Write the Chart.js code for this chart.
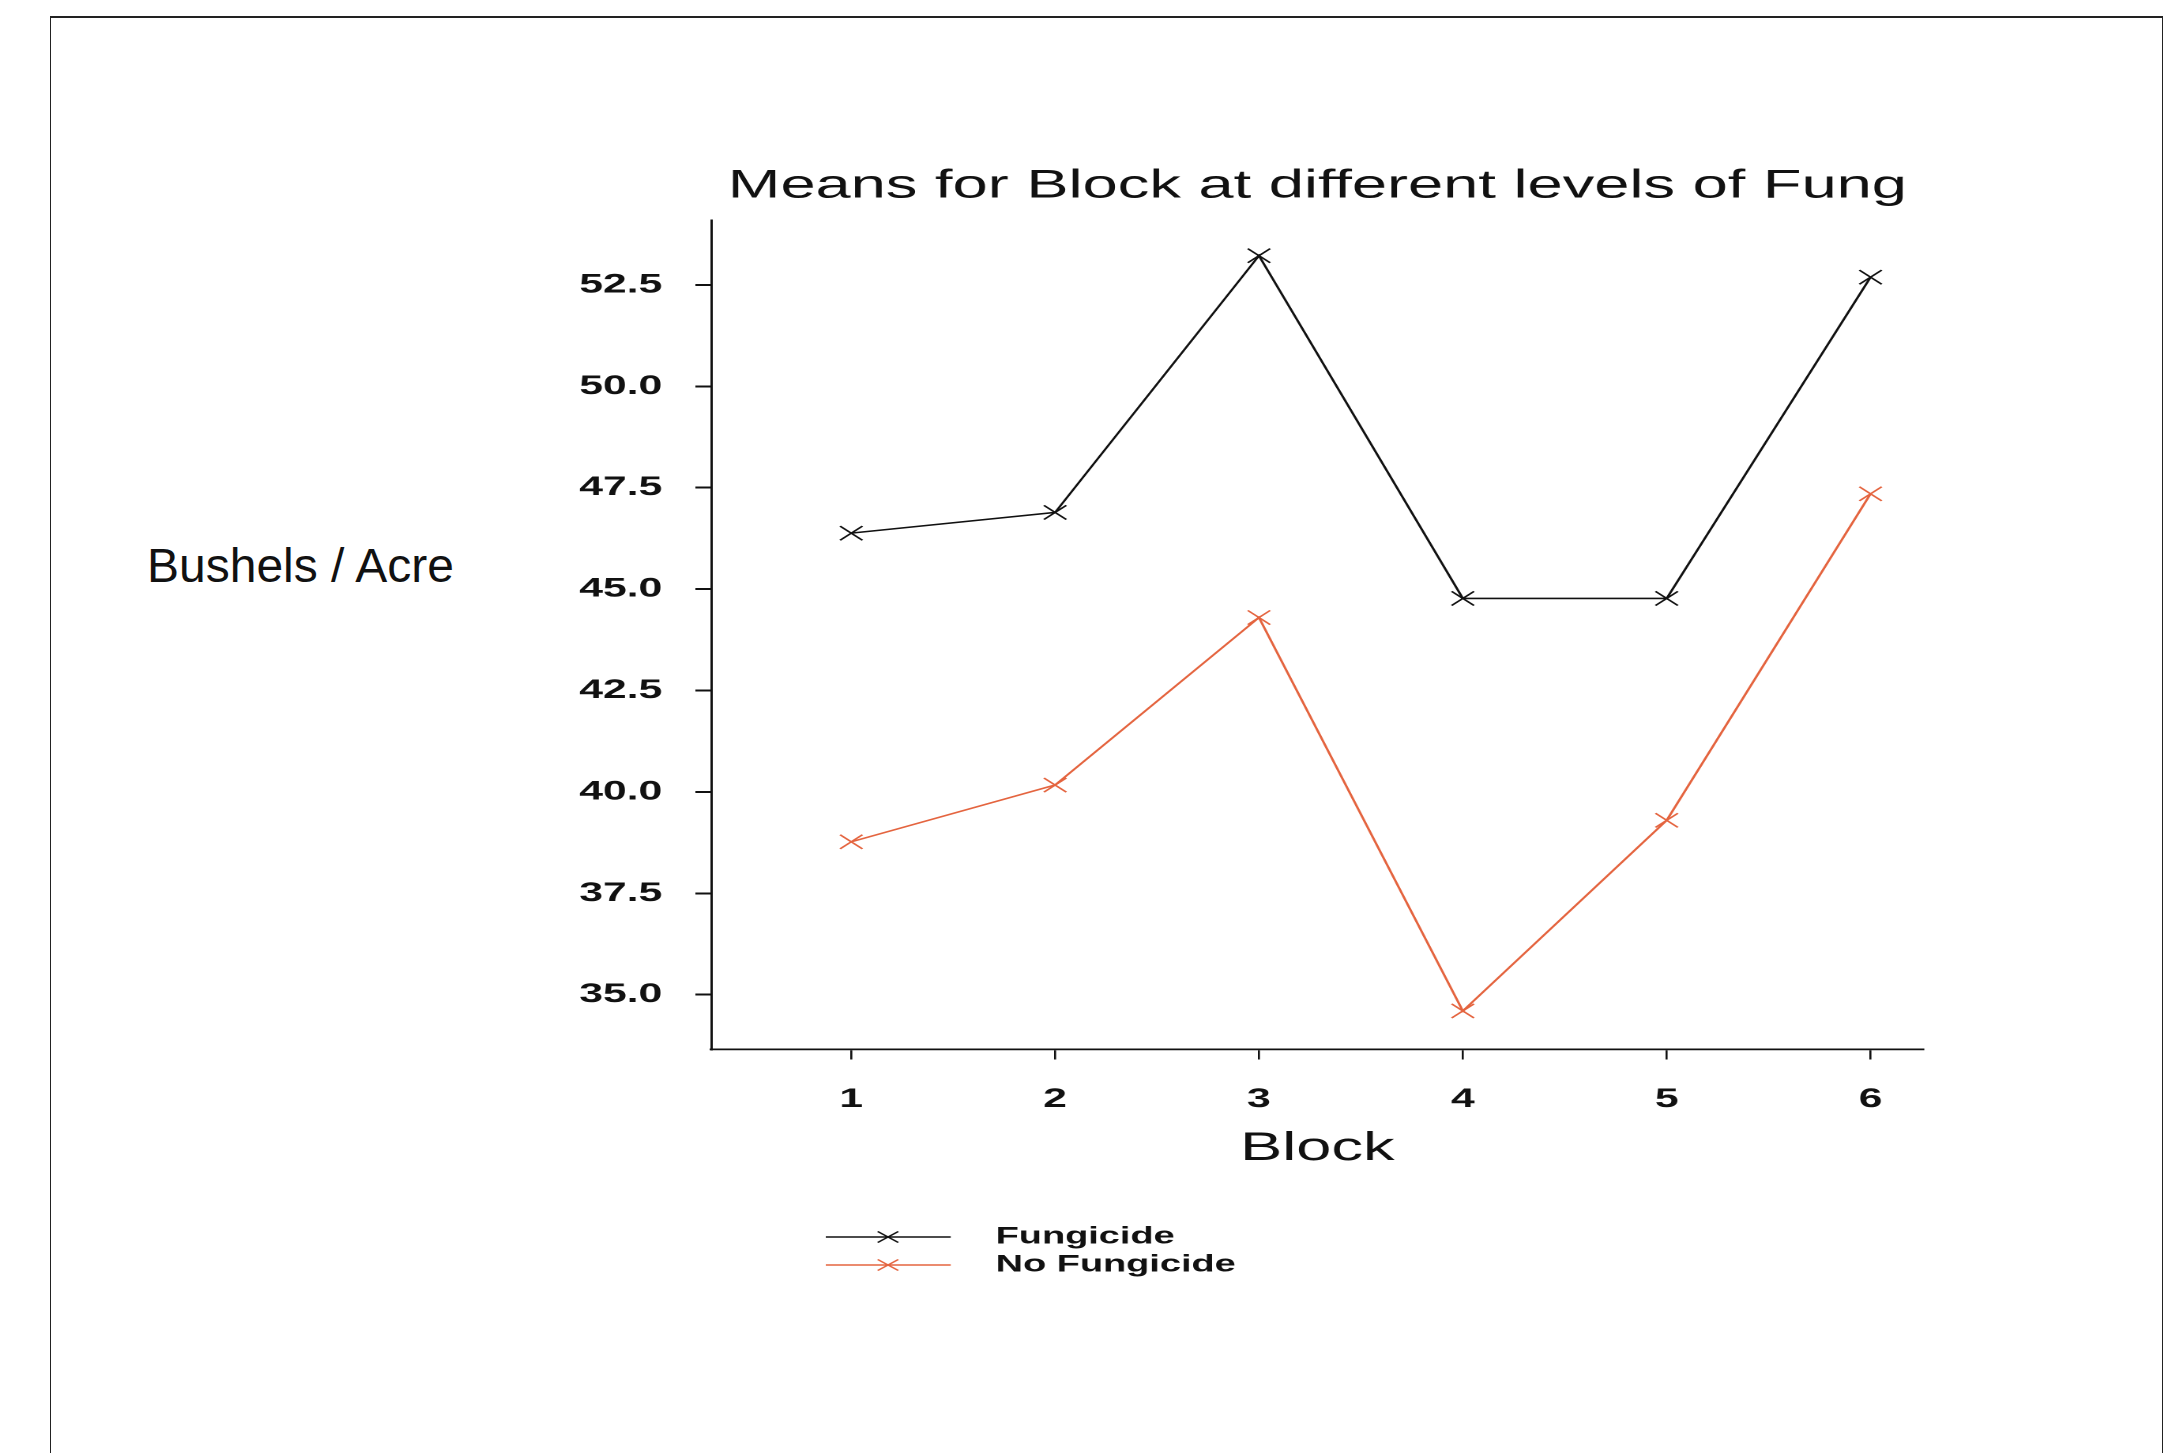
<!DOCTYPE html>
<html>
<head>
<meta charset="utf-8">
<script src="https://cdn.jsdelivr.net/npm/chart.js@4/dist/chart.umd.min.js"></script>
<style>
  html, body { margin: 0; padding: 0; background: #fff; }
  body { width: 2170px; height: 1453px; position: relative; overflow: hidden;
         font-family: 'Liberation Sans', Arial, Helvetica, sans-serif; }
  #frame { position: absolute; left: 50px; top: 16px; width: 2111px; height: 1460px;
           border-top: 2.5px solid #222; border-left: 1.5px solid #222; border-right: 1.5px solid #222; }
  #ylab { position: absolute; left: 147px; top: 542px; font-size: 48px; line-height: 48px;
          color: #111; white-space: nowrap; }
</style>
</head>
<body>
<div id="frame"></div>
<div id="ylab">Bushels / Acre</div>
<!-- the plot is drawn on a narrower canvas and widened horizontally -->
<canvas id="c" width="900" height="1180"
        style="position:absolute; left:569.3px; top:140px; width:1422px; height:1180px;"></canvas>
<script>
// Block means of yield (bushels / acre)
const blocks = [1, 2, 3, 4, 5, 6];
const fungicide = [46.38, 46.89, 53.22, 44.77, 44.77, 52.69];
const noFungicide = [38.77, 40.17, 44.30, 34.60, 39.30, 47.35];
const yTicks = [35.0, 37.5, 40.0, 42.5, 45.0, 47.5, 50.0, 52.5];
const seriesNames = ['Fungicide', 'No Fungicide'];
const seriesColors = ['#111111', '#e4643f'];

const FONT = "'Liberation Sans', Arial, Helvetica, sans-serif";

// Legend below the x axis: line sample with a cross marker, then the label
const legendRows = {
  id: 'legendRows',
  afterDraw(chart) {
    const { ctx, chartArea } = chart;
    ctx.save();
    chart.data.datasets.forEach((ds, i) => {
      const y = chartArea.bottom + 187.5 + i * 28;
      const x0 = chartArea.left + 72.5;
      const x1 = chartArea.left + 151.6;
      const xm = chartArea.left + 111.9;
      ctx.strokeStyle = ds.borderColor;
      ctx.lineWidth = 1.6;
      ctx.beginPath();
      ctx.moveTo(x0, y); ctx.lineTo(x1, y);
      ctx.stroke();
      ctx.lineWidth = 1.3;
      ctx.beginPath();
      ctx.moveTo(xm - 6.5, y - 5.5); ctx.lineTo(xm + 6.5, y + 5.5);
      ctx.moveTo(xm - 6.5, y + 5.5); ctx.lineTo(xm + 6.5, y - 5.5);
      ctx.stroke();
      ctx.fillStyle = '#111';
      ctx.font = 'bold 24px ' + FONT;
      ctx.textBaseline = 'middle';
      ctx.textAlign = 'left';
      ctx.fillText(ds.label, chartArea.left + 180, y);
    });
    ctx.restore();
  }
};

function series(values, idx) {
  return {
    label: seriesNames[idx],
    data: blocks.map((b, i) => ({ x: b, y: values[i] })),
    borderColor: seriesColors[idx],
    backgroundColor: seriesColors[idx],
    borderWidth: 1.6,
    tension: 0,
    fill: false,
    pointStyle: 'crossRot',
    pointRadius: 10,
    pointBorderWidth: 1.4,
    pointBorderColor: seriesColors[idx],
    pointBackgroundColor: seriesColors[idx]
  };
}

new Chart(document.getElementById('c'), {
  type: 'line',
  data: { datasets: [series(fungicide, 0), series(noFungicide, 1)] },
  options: {
    responsive: false,
    devicePixelRatio: 2,
    animation: false,
    layout: { autoPadding: false, padding: { left: 0, right: 42.7, top: 0, bottom: 147.2 } },
    plugins: {
      legend: { display: false },
      tooltip: { enabled: false },
      title: {
        display: true,
        text: 'Means for Block at different levels of Fung',
        fullSize: false,
        color: '#111',
        font: { family: FONT, size: 40, weight: 'normal', lineHeight: 1.2 },
        padding: { top: 22.3, bottom: 9.7 }
      }
    },
    scales: {
      x: {
        type: 'linear',
        min: 0.313,
        max: 6.26,
        afterBuildTicks: s => { s.ticks = blocks.map(v => ({ value: v })); },
        afterFit: s => { s.height = 123.3; },
        border: { display: true, color: '#111', width: 1.8 },
        grid: { display: true, drawOnChartArea: false, drawTicks: true, tickLength: 10, color: '#111', lineWidth: 1.3 },
        ticks: { color: '#111', padding: 24, autoSkip: false, maxRotation: 0,
                 font: { family: FONT, size: 27, weight: 'bold' }, callback: v => String(v) },
        title: { display: true, text: 'Block', color: '#111',
                 font: { family: FONT, size: 40, weight: 'normal', lineHeight: 1.2 },
                 padding: { top: 0, bottom: 0 } }
      },
      y: {
        min: 33.65,
        max: 54.1,
        afterBuildTicks: s => { s.ticks = yTicks.map(v => ({ value: v })); },
        afterFit: s => { s.width = 90; },
        border: { display: true, color: '#111', width: 1.5 },
        grid: { display: true, drawOnChartArea: false, drawTicks: true, tickLength: 10, color: '#111', lineWidth: 2 },
        ticks: { color: '#111', padding: 21,
                 font: { family: FONT, size: 27, weight: 'bold' }, callback: v => v.toFixed(1) }
      }
    }
  },
  plugins: [legendRows]
});
</script>
</body>
</html>
